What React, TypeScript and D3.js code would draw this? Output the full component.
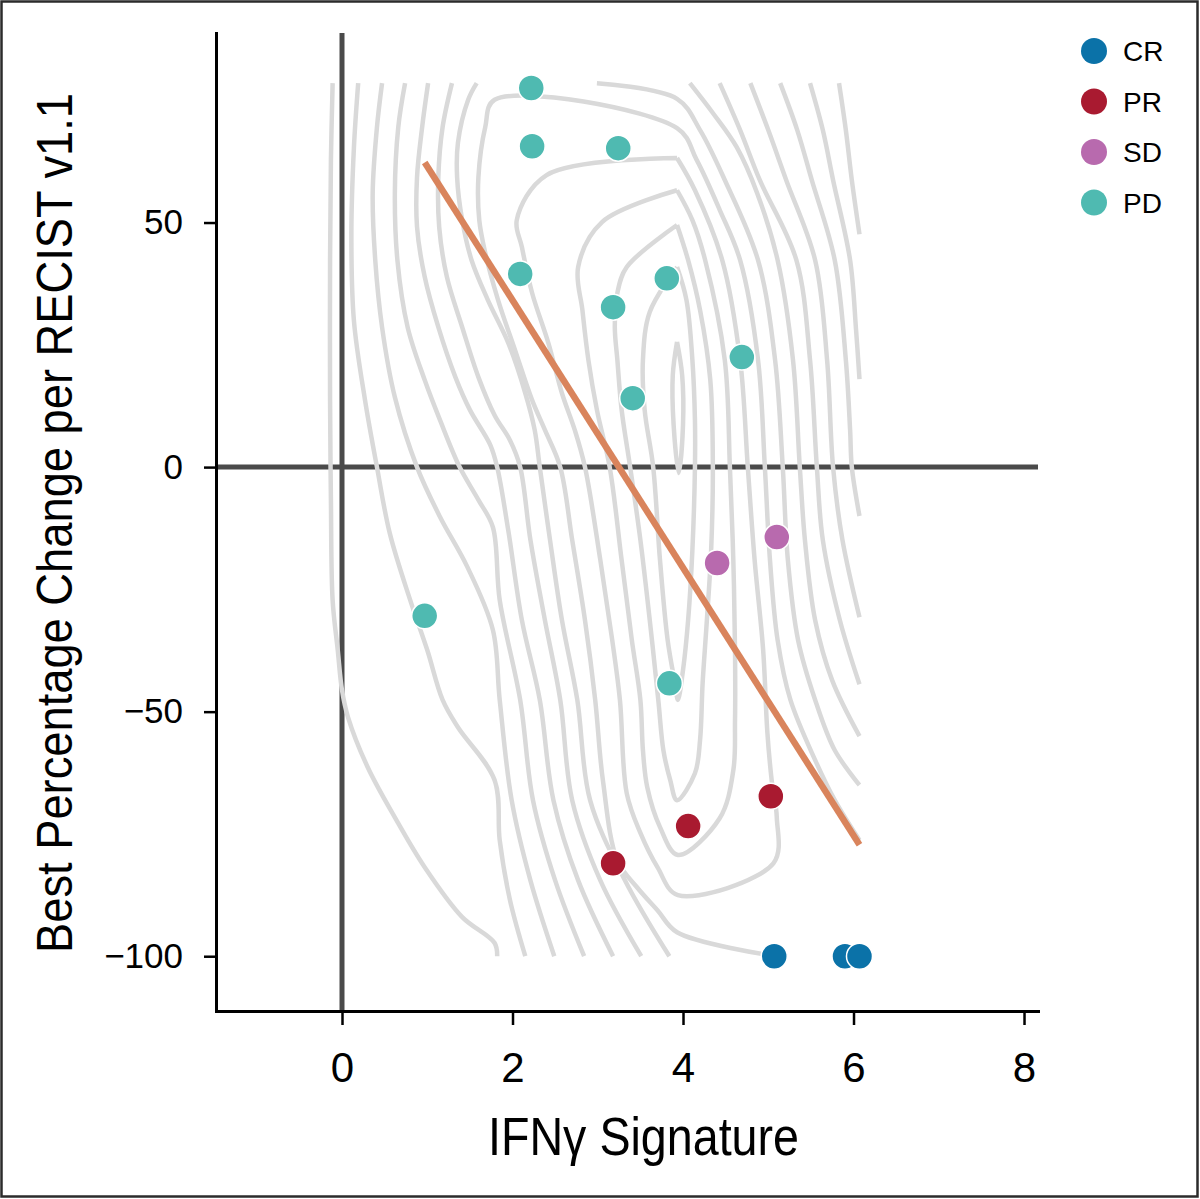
import { useEffect, useRef } from "react";
import * as d3 from "d3";

type Pt = [number, number];

const FONT = "'Liberation Sans', Arial, Helvetica, sans-serif";

// response categories, legend order
const RESPONSES = ["CR", "PR", "SD", "PD"];
const RESPONSE_COLORS = ["#0b72a8", "#a91a30", "#b86aae", "#4fbab1"];

// IFNγ signature (x) vs best % change (y)
const CR_POINTS: Pt[] = [[5.07, -100], [5.9, -100], [6.07, -100]];
const PR_POINTS: Pt[] = [[5.03, -67.3], [4.06, -73.4], [3.18, -81.0]];
const SD_POINTS: Pt[] = [[4.4, -19.6], [5.1, -14.3]];
const PD_POINTS: Pt[] = [
  [2.22, 77.5], [2.23, 65.6], [3.24, 65.2], [2.09, 39.5], [3.81, 38.6],
  [3.18, 32.7], [4.69, 22.5], [3.41, 14.1], [0.97, -30.4], [3.84, -44.2],
];
const POINTS_BY_RESPONSE = [CR_POINTS, PR_POINTS, SD_POINTS, PD_POINTS];

const X_TICKS = [0, 2, 4, 6, 8];
const Y_TICKS = [50, 0, -50, -100];

// density contour lines (x, y)
const LEFT_1: Pt[] = [[-0.11, 78.5], [-0.13, 62.8], [-0.14, 42.3], [-0.14, 13.7], [-0.13, -6.7], [-0.11, -27.2], [-0.05, -37.4], [0, -45.6], [0.07, -51.1], [0.3, -61.3], [0.62, -71.6], [0.97, -81.8], [1.41, -92.0], [1.79, -97.3], [1.82, -100]];
const LEFT_2: Pt[] = [[0.19, 78.5], [0.14, 65.4], [0.11, 47.6], [0.14, 29.9], [0.27, 13.7], [0.41, 0], [0.56, -13.5], [0.8, -27.2], [1.0, -37.4], [1.18, -47.6], [1.36, -53.2], [1.79, -64.0], [1.85, -76.3], [1.97, -88.5], [2.15, -100]];
const LEFT_3: Pt[] = [[0.47, 78.5], [0.41, 69.5], [0.36, 56.0], [0.39, 42.3], [0.47, 28.6], [0.62, 14.3], [0.88, 0], [1.15, -10.2], [1.47, -20.4], [1.77, -33.3], [1.85, -47.6], [1.99, -68.1], [2.21, -84.5], [2.49, -100]];
const LEFT_4: Pt[] = [[0.74, 78.5], [0.66, 69.5], [0.62, 56.0], [0.65, 42.3], [0.77, 28.6], [0.97, 17.8], [1.15, 9.6], [1.38, 0], [1.6, -6.7], [1.77, -12.3], [1.85, -27.2], [2.09, -47.6], [2.24, -68.1], [2.5, -84.5], [2.84, -100]];
const LEFT_5: Pt[] = [[1.01, 78.5], [0.94, 69.5], [0.88, 59.3], [0.88, 49.1], [0.97, 38.9], [1.13, 28.6], [1.33, 18.4], [1.5, 11.7], [1.74, 4.5], [1.82, 0], [1.95, -12.9], [2.11, -31.3], [2.32, -47.6], [2.48, -68.1], [2.77, -84.5], [3.18, -100]];
const LEFT_6: Pt[] = [[1.29, 78.5], [1.18, 69.5], [1.13, 59.3], [1.14, 49.1], [1.23, 38.9], [1.41, 28.6], [1.6, 18.4], [1.79, 10.6], [1.97, 5.5], [2.09, 0], [2.21, -14.9], [2.38, -31.3], [2.56, -47.6], [2.7, -68.1], [3.03, -84.5], [3.51, -100]];
const LEFT_7: Pt[] = [[1.58, 78.5], [1.48, 75.1], [1.36, 66.3], [1.35, 59.3], [1.41, 50.5], [1.52, 42.3], [1.71, 34.2], [1.95, 25.4], [2.15, 15.1], [2.26, 7.6], [2.32, 0], [2.44, -14.9], [2.58, -31.3], [2.76, -47.6], [2.91, -68.1], [3.32, -84.5], [3.84, -100]];
const OPEN_ARC: Pt[] = [[6.07, -76.3], [5.78, -68.1], [5.55, -59.9], [5.26, -47.6], [5.11, -35.4], [5.02, -19.0], [4.96, 0], [4.88, 21.9], [4.67, 42.3], [4.43, 52.6], [4.16, 62.8], [3.93, 69.3], [1.79, 75.1], [1.68, 69.5], [1.6, 59.3], [1.61, 50.5], [1.68, 43.8], [1.83, 34.2], [2.03, 23.9], [2.23, 13.7], [2.38, 7.6], [2.56, 0], [2.7, -14.9], [2.85, -31.3], [2.97, -47.6], [3.06, -64.0], [3.23, -80.4], [3.46, -85.9], [3.7, -90.6], [3.93, -95.1], [5.02, -99.8]];
const LOOP_5: Pt[] = [[3.93, 63.2], [4.14, 56.6], [4.46, 42.3], [4.67, 21.9], [4.76, 0], [4.84, -19.0], [4.94, -37.4], [4.99, -54.4], [5.04, -64.0], [5.1, -71.6], [5.06, -81.0], [3.94, -87.5], [3.7, -81.8], [3.5, -74.8], [3.34, -66.7], [3.26, -47.6], [3.17, -35.4], [3.03, -19.0], [2.85, 0], [2.73, 7.6], [2.58, 15.1], [2.42, 25.4], [2.23, 35.6], [2.11, 45.0], [2.05, 50.5], [2.4, 59.7], [3.93, 63.2]];
const LOOP_4: Pt[] = [[3.93, 56.6], [4.11, 50.5], [4.26, 42.3], [4.49, 21.9], [4.55, 0], [4.59, -19.0], [4.61, -37.4], [4.61, -51.7], [4.59, -62.0], [4.43, -71.8], [3.94, -79.3], [3.73, -73.6], [3.58, -65.4], [3.53, -57.9], [3.5, -47.6], [3.4, -35.4], [3.28, -19.0], [3.14, 0], [2.99, 11.7], [2.89, 21.9], [2.82, 32.1], [2.77, 40.9], [3.05, 50.1], [3.93, 56.6]];
const LOOP_3: Pt[] = [[3.93, 49.5], [4.06, 42.3], [4.2, 32.1], [4.32, 17.8], [4.35, 0], [4.33, -17.0], [4.28, -31.3], [4.23, -44.2], [4.2, -55.8], [4.14, -62.6], [3.93, -68.1], [3.85, -64.0], [3.77, -57.9], [3.71, -47.6], [3.61, -31.3], [3.5, -14.9], [3.38, 0], [3.28, 11.7], [3.23, 21.9], [3.2, 28.6], [3.23, 35.6], [3.34, 40.9], [3.93, 49.5]];
const LOOP_2: Pt[] = [[3.93, 40.9], [4.04, 34.2], [4.11, 21.9], [4.14, 9.6], [4.14, 0], [4.11, -17.0], [4.06, -31.3], [4.0, -41.5], [3.94, -47.6], [3.91, -44.6], [3.82, -35.4], [3.73, -19.0], [3.65, 0], [3.55, 11.7], [3.53, 21.9], [3.61, 31.7], [3.93, 40.9]];
const LOOP_1: Pt[] = [[3.93, 25.6], [3.99, 18.8], [4.0, 8.6], [3.95, -1.2], [3.89, 8.6], [3.88, 18.8], [3.93, 25.6]];
const TOP_ARC: Pt[] = [[2.99, 78.5], [3.93, 75.3], [4.2, 68.9], [4.49, 58.7], [4.88, 42.3], [5.08, 21.9], [5.17, 0], [5.23, -19.0], [5.35, -35.4], [5.55, -47.6], [5.78, -57.9], [6.07, -65.0]];
const RIGHT_1: Pt[] = [[4.08, 78.5], [4.35, 72.4], [4.63, 65.4], [4.87, 56.0], [5.11, 42.3], [5.29, 21.9], [5.37, 0], [5.43, -14.9], [5.55, -31.3], [5.75, -43.6], [6.07, -55.0]];
const RIGHT_2: Pt[] = [[4.43, 78.5], [4.67, 68.9], [4.9, 58.7], [5.33, 42.3], [5.49, 21.9], [5.57, 0], [5.64, -14.9], [5.84, -31.3], [6.07, -44.4]];
const RIGHT_3: Pt[] = [[4.79, 78.5], [5.0, 68.9], [5.21, 58.7], [5.55, 42.3], [5.69, 21.9], [5.76, 0], [5.87, -14.9], [6.07, -30.7]];
const RIGHT_4: Pt[] = [[5.14, 78.5], [5.34, 68.9], [5.51, 58.7], [5.78, 42.3], [5.91, 21.9], [5.96, 7.6], [5.98, 0], [6.07, -10.0]];
const RIGHT_5: Pt[] = [[5.49, 78.5], [5.64, 68.9], [5.76, 58.7], [5.96, 42.3], [6.03, 28.0], [6.07, 18.0]];
const RIGHT_6: Pt[] = [[5.83, 78.5], [5.91, 68.9], [5.98, 58.7], [6.07, 47.6]];

const CONTOURS: Pt[][] = [
  LEFT_1, LEFT_2, LEFT_3, LEFT_4, LEFT_5, LEFT_6, LEFT_7, OPEN_ARC,
  LOOP_5, LOOP_4, LOOP_3, LOOP_2, LOOP_1,
  TOP_ARC, RIGHT_1, RIGHT_2, RIGHT_3, RIGHT_4, RIGHT_5, RIGHT_6,
];

export default function App() {
  const svgRef = useRef<SVGSVGElement | null>(null);

  useEffect(() => {
    if (!svgRef.current) return;
    document.body.style.margin = "0";

    const W = 1200;
    const H = 1199;
    const m = { top: 33, right: 162, bottom: 188, left: 216 };

    const svg = d3.select(svgRef.current);
    svg.selectAll("*").remove();
    svg.attr("width", W).attr("height", H);

    svg.append("rect").attr("width", W).attr("height", H).attr("fill", "#fff");
    svg.append("rect")
      .attr("x", 1.5).attr("y", 1.5).attr("width", W - 4).attr("height", H - 4)
      .attr("fill", "none").attr("stroke", "#2b2b2b").attr("stroke-width", 2.5);

    const x = d3.scaleLinear().domain([-1.478, 8.164]).range([m.left, W - m.right]);
    const y = d3.scaleLinear().domain([-111.2, 88.75]).range([H - m.bottom, m.top]);

    // reference lines at zero
    const zero = svg.append("g").attr("stroke", "#4a4a4a").attr("stroke-width", 5);
    zero.append("line").attr("x1", x(0)).attr("x2", x(0)).attr("y1", y.range()[1]).attr("y2", y.range()[0]);
    zero.append("line").attr("x1", x.range()[0]).attr("x2", x.range()[1]).attr("y1", y(0)).attr("y2", y(0));

    // contours
    const contourLine = d3.line<Pt>()
      .x((d) => x(d[0]))
      .y((d) => y(d[1]))
      .curve(d3.curveCatmullRom.alpha(0.5));

    svg.append("g")
      .selectAll("path")
      .data(CONTOURS)
      .join("path")
      .attr("d", (d) => contourLine(d))
      .attr("fill", "none")
      .attr("stroke", "#d9d9d9")
      .attr("stroke-width", 4.5)
      .attr("stroke-linejoin", "round");

    // least-squares fit over all patients
    const all = POINTS_BY_RESPONSE.flat();
    const mx = d3.mean(all, (d) => d[0]) as number;
    const my = d3.mean(all, (d) => d[1]) as number;
    const sxy = d3.sum(all, (d) => (d[0] - mx) * (d[1] - my));
    const sxx = d3.sum(all, (d) => (d[0] - mx) ** 2);
    const slope = sxy / sxx;
    const [x0, x1] = d3.extent(all, (d) => d[0]) as [number, number];
    const fit: Pt[] = [x0, x1].map((v) => [v, my + slope * (v - mx)] as Pt);

    svg.append("path")
      .datum(fit)
      .attr("d", d3.line<Pt>().x((d) => x(d[0])).y((d) => y(d[1])))
      .attr("fill", "none")
      .attr("stroke", "#d9845c")
      .attr("stroke-width", 6.5);

    // points
    POINTS_BY_RESPONSE.forEach((pts, i) => {
      svg.append("g")
        .selectAll("circle")
        .data(pts)
        .join("circle")
        .attr("cx", (d) => x(d[0]))
        .attr("cy", (d) => y(d[1]))
        .attr("r", 13)
        .attr("fill", RESPONSE_COLORS[i])
        .attr("stroke", "#fff")
        .attr("stroke-width", 1.5);
    });

    // axes
    svg.append("g")
      .attr("transform", `translate(${m.left},0)`)
      .call(d3.axisLeft(y).tickValues(Y_TICKS).tickSize(12).tickSizeOuter(0).tickPadding(21))
      .call((ax) => ax.select(".domain").attr("stroke", "#000").attr("stroke-width", 3).attr("stroke-linecap", "square"))
      .call((ax) => ax.selectAll(".tick line").attr("stroke", "#000").attr("stroke-width", 2.5))
      .call((ax) => ax.selectAll("text").attr("font-size", 35).attr("font-family", FONT).attr("fill", "#000"));

    svg.append("g")
      .attr("transform", `translate(0,${H - m.bottom})`)
      .call(d3.axisBottom(x).tickValues(X_TICKS).tickSize(14).tickSizeOuter(0).tickPadding(27))
      .call((ax) => ax.select(".domain").attr("stroke", "#000").attr("stroke-width", 3).attr("stroke-linecap", "square"))
      .call((ax) => ax.selectAll(".tick line").attr("stroke", "#000").attr("stroke-width", 2.5))
      .call((ax) => ax.selectAll("text").attr("font-size", 42).attr("font-family", FONT).attr("fill", "#000"));

    // axis titles
    svg.append("text")
      .attr("x", 643.5).attr("y", 1155)
      .attr("text-anchor", "middle")
      .attr("font-family", FONT).attr("font-size", 53)
      .attr("textLength", 311).attr("lengthAdjust", "spacingAndGlyphs")
      .text("IFNγ Signature");

    svg.append("text")
      .attr("transform", "translate(72,523) rotate(-90)")
      .attr("text-anchor", "middle")
      .attr("font-family", FONT).attr("font-size", 50)
      .attr("textLength", 860).attr("lengthAdjust", "spacingAndGlyphs")
      .text("Best Percentage Change per RECIST v1.1");

    // legend
    const legend = svg.append("g").attr("transform", "translate(1094,51)");
    RESPONSES.forEach((label, i) => {
      const row = legend.append("g").attr("transform", `translate(0,${i * 50.5})`);
      row.append("circle").attr("r", 13).attr("fill", RESPONSE_COLORS[i]);
      row.append("text")
        .attr("x", 29).attr("dy", "0.36em")
        .attr("font-family", FONT).attr("font-size", 28)
        .text(label);
    });
  }, []);

  return (
    <div style={{ position: "absolute", left: 0, top: 0 }}>
      <svg ref={svgRef} style={{ display: "block" }} />
    </div>
  );
}
